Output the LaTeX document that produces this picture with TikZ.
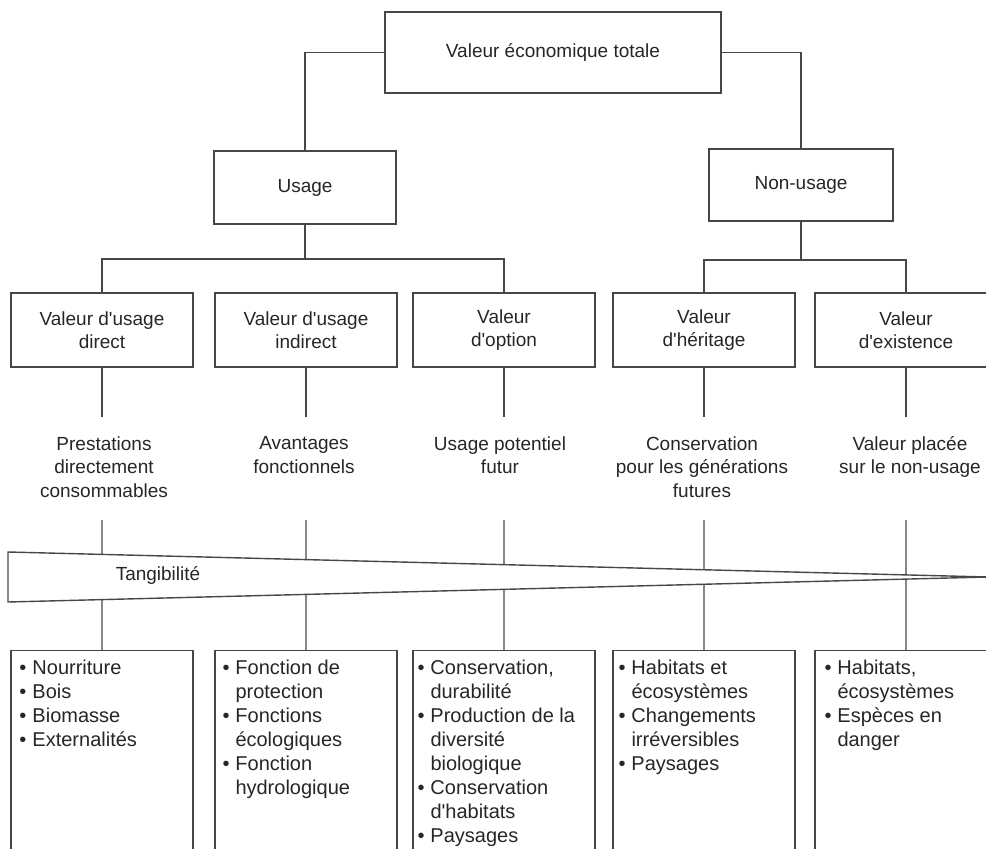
\documentclass[tikz,border=0pt]{standalone}
\usepackage{fontspec}
\setmainfont{Liberation Sans}[Ligatures=TeXOff]
\usetikzlibrary{calc}
% bullet item and its continuation line
\newcommand{\pitem}[1]{\makebox[13pt][l]{•}#1}
\newcommand{\pcont}[1]{\hspace*{13pt}#1}
\begin{document}
\begin{tikzpicture}[x=1pt,y=-1pt,
  line/.style={draw=black!72, line width=1.4pt},
  box/.style={line, rectangle, inner sep=2pt, align=center, text=black!85,
    font=\fontsize{19}{23}\selectfont},
  valbox/.style={box, minimum width=182pt, minimum height=74pt},
  desc/.style={align=center, inner sep=0pt, text=black!85,
    font=\fontsize{19}{23.5}\selectfont},
  lowbox/.style={line, rectangle, anchor=north, minimum width=182pt,
    minimum height=220pt, inner sep=0pt},
  listtext/.style={anchor=north west, align=left, inner sep=0pt, text=black!85,
    font=\fontsize{20}{23.9}\selectfont}
]
\useasboundingbox (0,0) rectangle (986,849);
\begin{scope}
\clip (0,0) rectangle (986,849);

% top of the tree
\node[box, minimum width=336pt, minimum height=81pt] (top) at (553,52.5) {Valeur économique totale};
\node[box, minimum width=182pt, minimum height=73pt] (usage) at (305,187.5) {Usage};
\node[box, minimum width=184pt, minimum height=72pt] (nonusage) at (801,185) {Non-usage};

\draw[line] (top.west) -| (usage.north);
\draw[line] (top.east) -| (nonusage.north);

% value categories
\node[valbox] (b1) at (102,330) {Valeur d'usage\\direct};
\node[valbox] (b2) at (306,330) {Valeur d'usage\\indirect};
\node[valbox] (b3) at (504,330) {Valeur\\d'option};
\node[valbox] (b4) at (704,330) {Valeur\\d'héritage};
\node[valbox] (b5) at (906,330) {Valeur\\d'existence};

\coordinate (hu) at (305,259);
\coordinate (hn) at (801,260);
\draw[line] (usage.south) -- (hu);
\draw[line] (b1.north) |- (hu) -| (b3.north);
\draw[line] (nonusage.south) -- (hn);
\draw[line] (b4.north) |- (hn) -| (b5.north);

% descriptions
\node[desc] (d1) at (104,467) {Prestations\\directement\\consommables};
\node[desc] (d2) at (304,455) {Avantages\\fonctionnels};
\node[desc] (d3) at (500,455) {Usage potentiel\\futur};
\node[desc] (d4) at (702,467) {Conservation\\pour les générations\\futures};
\node[desc] (d5) at (910,457) {Valeur placée\\sur le non-usage};

% tangibility wedge
\coordinate (tl) at (8,552);
\coordinate (bl) at (8,602);
\coordinate (ap) at (988,577);
\draw[line, line join=miter] (tl) -- (ap) -- (bl) -- cycle;
\node[desc] (tang) at (158,575) {Tangibilité};

% example boxes
\node[lowbox] (c1) at (102,650) {};
\node[lowbox] (c2) at (306,650) {};
\node[lowbox] (c3) at (504,650) {};
\node[lowbox] (c4) at (704,650) {};
\node[lowbox] (c5) at (906,650) {};

\node[listtext] (l1) at ($(c1.north west)+(9,10)$) {%
  \pitem{Nourriture}\\ \pitem{Bois}\\ \pitem{Biomasse}\\ \pitem{Externalités}};
\node[listtext] (l2) at ($(c2.north west)+(8,10)$) {%
  \pitem{Fonction de}\\ \pcont{protection}\\ \pitem{Fonctions}\\
  \pcont{écologiques}\\ \pitem{Fonction}\\ \pcont{hydrologique}};
\node[listtext] (l3) at ($(c3.north west)+(5,10)$) {%
  \pitem{Conservation,}\\ \pcont{durabilité}\\ \pitem{Production de la}\\
  \pcont{diversité}\\ \pcont{biologique}\\ \pitem{Conservation}\\
  \pcont{d'habitats}\\ \pitem{Paysages}};
\node[listtext] (l4) at ($(c4.north west)+(6,10)$) {%
  \pitem{Habitats et}\\ \pcont{écosystèmes}\\ \pitem{Changements}\\
  \pcont{irréversibles}\\ \pitem{Paysages}};
\node[listtext] (l5) at ($(c5.north west)+(10,10)$) {%
  \pitem{Habitats,}\\ \pcont{écosystèmes}\\ \pitem{Espèces en}\\ \pcont{danger}};

% stems through the descriptions and the wedge
\coordinate (dt) at (0,417);
\coordinate (ub) at (0,520);
\foreach \i in {1,...,5} {
  \coordinate (u\i) at (b\i.south |- ub);
  \coordinate (w\i) at (c\i.north |- ub);
  \draw[line] (b\i.south) -- (b\i.south |- dt);
  \draw[line] (u\i) -- (intersection of u\i--c\i.north and tl--ap);
  \draw[line] (intersection of w\i--c\i.north and bl--ap) -- (c\i.north);
}
\end{scope}
\end{tikzpicture}
\end{document}
